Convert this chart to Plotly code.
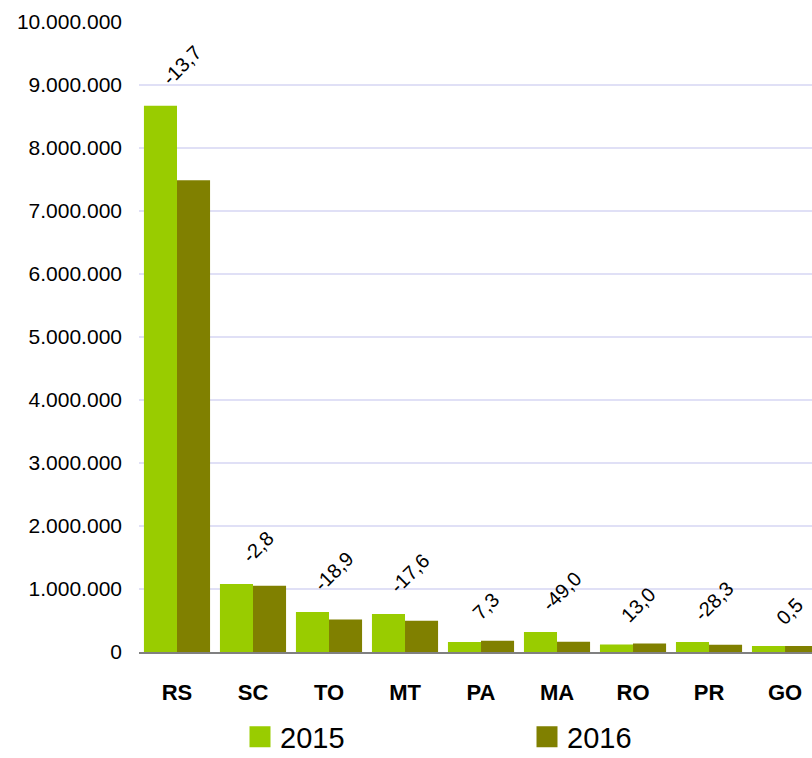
import plotly.graph_objects as go

categories = ["RS", "SC", "TO", "MT", "PA", "MA", "RO", "PR", "GO"]
values_2015 = [8670000, 1080000, 635000, 603000, 160000, 317000, 120000, 160000, 95000]
values_2016 = [7490000, 1050000, 515000, 497000, 180000, 162000, 135000, 115000, 95500]
change_pct = [-13.7, -2.8, -18.9, -17.6, 7.3, -49.0, 13.0, -28.3, 0.5]
series_names = ["2015", "2016"]
colors = ["#99CC00", "#808000"]
y_ticks = list(range(0, 10000001, 1000000))

FONT = "Liberation Sans, Arial, sans-serif"

fig = go.Figure()
for name, vals, col in zip(series_names, [values_2015, values_2016], colors):
    fig.add_trace(go.Bar(x=categories, y=vals, name=name, marker_color=col,
                         marker_line_width=0, showlegend=False))
    fig.add_trace(go.Scatter(x=[None], y=[None], mode="markers", name=name,
                             marker=dict(symbol="square", size=16, color=col,
                                         line=dict(color=col, width=5))))

for cat, a, b, p in zip(categories, values_2015, values_2016, change_pct):
    txt = f"{p:.1f}".replace(".", ",")
    fig.add_annotation(x=cat, y=max(a, b), text=txt, textangle=-45, showarrow=False,
                       xanchor="center", yanchor="bottom", yshift=14, xshift=5,
                       font=dict(family=FONT, size=20, color="#000000"))

fig.update_layout(
    width=812, height=758,
    margin=dict(l=139, r=0, t=22, b=106, autoexpand=False),
    plot_bgcolor="white", paper_bgcolor="white",
    separators=",.",
    barmode="group", bargap=0.13, bargroupgap=0,
    font=dict(family=FONT, size=20, color="#000000"),
    xaxis=dict(range=[-0.5, 8.355], showline=True, linecolor="#808080", linewidth=2,
               showgrid=False, ticks="", tickfont=dict(family=FONT, size=22, color="#000000"),
               ticklabelstandoff=20, tickprefix="<b>", ticksuffix="</b>"),
    yaxis=dict(range=[0, 10000000], tickvals=y_ticks, tickformat=",.0f",
               showgrid=True, gridcolor="#E0E0F6", gridwidth=2, zeroline=False,
               showline=False, ticks="", ticklabelstandoff=16,
               tickfont=dict(family=FONT, size=21, color="#000000")),
    legend=dict(orientation="h", xref="container", yref="container",
                x=240 / 812, xanchor="left", y=1 - 737 / 758, yanchor="middle",
                entrywidth=242, entrywidthmode="pixels", font=dict(family=FONT, size=29),
                itemsizing="trace"),
)

fig.write_html("out.html", config={"displayModeBar": False},
               post_script="document.body.style.margin='0';")
